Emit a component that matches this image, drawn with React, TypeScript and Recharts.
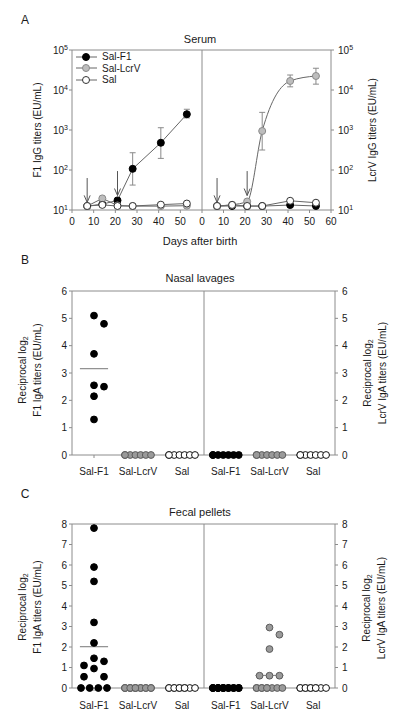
import React from 'react';
import {
  ComposedChart,
  ScatterChart,
  Line,
  Scatter,
  XAxis,
  YAxis,
  ErrorBar,
  ReferenceLine,
} from 'recharts';

// ---- Panel A: serum IgG titers (EU/mL) ----
const days = [7, 14, 21, 28, 41, 53];

const f1SalF1 = [12.5, 14, 17.4, 107, 480, 2480];
const f1SalF1Low = [12.5, 14, 17.4, 42, 195, 2000];
const f1SalF1High = [12.5, 14, 17.4, 270, 1140, 3300];
const f1SalLcrV = [12.5, 19.5, 13, 12.5, 12.5, 12.8];
const f1Sal = [12.6, 13.4, 12.6, 12.6, 13.6, 14.5];

const lcrvSalF1 = [12.5, 12.6, 12.5, 12.5, 13.3, 12.6];
const lcrvSalLcrV = [12.6, 13.5, 16.3, 944, 16800, 22400];
const lcrvSalLcrVLow = [12.6, 13.5, 16.3, 316, 12000, 14000];
const lcrvSalLcrVHigh = [12.6, 13.5, 16.3, 2760, 23700, 35000];
const lcrvSal = [12.6, 13.4, 12.6, 12.6, 17, 15.2];

// immunization arrows
const boostDays = [7, 21];
const arrowFrom = [63, 94];
const arrowTo = [15.5, 23];

const logTicks = [10, 100, 1000, 10000, 100000];
const dayTicksLeft = [0, 10, 20, 30, 40, 50];
const dayTicksRight = [0, 10, 20, 30, 40, 50, 60];

// ---- Panels B / C: reciprocal log2 IgA titers ----
const groups = ['Sal-F1', 'Sal-LcrV', 'Sal'];

const nasalF1SalF1 = [5.1, 4.8, 3.7, 2.55, 2.5, 2.15, 1.3];
const nasalF1SalLcrV = [0, 0, 0, 0, 0, 0, 0];
const nasalF1Sal = [0, 0, 0, 0, 0, 0, 0];
const nasalLcrVSalF1 = [0, 0, 0, 0, 0, 0, 0];
const nasalLcrVSalLcrV = [0, 0, 0, 0, 0, 0, 0];
const nasalLcrVSal = [0, 0, 0, 0, 0, 0, 0];

const fecalF1SalF1 = [7.8, 5.9, 5.2, 3.2, 2.2, 1.45, 1.3, 1.1, 0.95, 0.55, 0.55, 0, 0, 0, 0];
const fecalF1SalLcrV = [0, 0, 0, 0, 0, 0, 0, 0, 0, 0, 0, 0, 0, 0, 0];
const fecalF1Sal = [0, 0, 0, 0, 0, 0, 0, 0, 0, 0];
const fecalLcrVSalF1 = [0, 0, 0, 0, 0, 0, 0, 0, 0, 0, 0, 0, 0, 0, 0];
const fecalLcrVSalLcrV = [2.95, 2.6, 1.9, 0.6, 0.6, 0.6, 0, 0, 0, 0, 0, 0, 0, 0, 0];
const fecalLcrVSal = [0, 0, 0, 0, 0, 0, 0, 0, 0, 0];

const nasalTicks = [0, 1, 2, 3, 4, 5, 6];
const fecalTicks = [0, 1, 2, 3, 4, 5, 6, 7, 8];

const FONT = '"Liberation Sans", Arial, sans-serif';
const AXIS = '#8c8c8c';
const INK = '#1a1a1a';

const serumStyles = [
  { name: 'Sal-F1', fill: '#000', stroke: '#000' },
  { name: 'Sal-LcrV', fill: '#bdbdbd', stroke: '#8a8a8a' },
  { name: 'Sal', fill: '#fff', stroke: '#333' },
];
const dotStyles = [
  { fill: '#000', stroke: '#000' },
  { fill: '#9a9a9a', stroke: '#5c5c5c' },
  { fill: '#fff', stroke: '#111' },
];

const serumData = days.map((d, i) => ({
  day: d,
  f1SalF1: f1SalF1[i],
  f1Err: [f1SalF1[i] - f1SalF1Low[i], f1SalF1High[i] - f1SalF1[i]],
  f1SalLcrV: f1SalLcrV[i],
  f1Sal: f1Sal[i],
  lcrvSalF1: lcrvSalF1[i],
  lcrvSalLcrV: lcrvSalLcrV[i],
  lcrvErr: [lcrvSalLcrV[i] - lcrvSalLcrVLow[i], lcrvSalLcrVHigh[i] - lcrvSalLcrV[i]],
  lcrvSal: lcrvSal[i],
}));

// simple beeswarm: offsets in px so dots don't sit on top of each other
function swarm(vals: number[], pxPerUnit: number): number[] {
  const out = vals.map(() => 0);
  const placed: { x: number; y: number }[] = [];
  const done = new Set<number>();
  const order = vals.map((_, i) => i).sort((a, b) => vals[b] - vals[a]);
  for (const i of order) {
    const v = vals[i];
    const same = vals.map((w, j) => (w === v ? j : -1)).filter((j) => j >= 0);
    if (same.length > 2) {
      if (done.has(v)) continue;
      done.add(v);
      // identical values: a compact row of at most 6 positions
      const slots = Math.min(same.length, 6);
      const span = Math.min(26, (slots - 1) * 10);
      same.forEach((j, k) => {
        out[j] = -span / 2 + (span * (k % slots)) / (slots - 1);
        placed.push({ x: out[j], y: v * pxPerUnit });
      });
      continue;
    }
    const y = v * pxPerUnit;
    for (const s of [0, 10, -10, 20, -20]) {
      if (placed.every((p) => Math.abs(p.y - y) >= 9 || Math.abs(p.x - s) >= 7)) {
        out[i] = s;
        placed.push({ x: s, y });
        break;
      }
    }
  }
  return out;
}

const mean = (a: number[]) => a.reduce((s, v) => s + v, 0) / a.length;

const PowTick = (props: any) => {
  const { x, y, payload, textAnchor } = props;
  const exp = Math.round(Math.log10(payload.value));
  return (
    <text x={x} y={y} dy={4} textAnchor={textAnchor} fontSize={10} fill={INK} fontFamily={FONT}>
      10
      <tspan dy={-4} fontSize={7}>
        {exp}
      </tspan>
    </text>
  );
};

const Arrow = (props: any) => {
  const { x1, y1, x2, y2 } = props;
  if ([x1, y1, x2, y2].some((v) => v == null || isNaN(v))) return null;
  const top = Math.min(y1, y2);
  const tip = Math.max(y1, y2);
  return (
    <g stroke="#555" strokeWidth={1} fill="none">
      <line x1={x1} y1={top} x2={x1} y2={tip} />
      <polyline points={`${x1 - 3},${tip - 7} ${x1},${tip} ${x1 + 3},${tip - 7}`} />
    </g>
  );
};

const Txt = ({ x, y, size = 10, rotate = false, children }: any) => (
  <div
    style={{
      position: 'absolute',
      left: x,
      top: y,
      transform: `translate(-50%, -50%)${rotate ? ' rotate(-90deg)' : ''}`,
      fontSize: size,
      fontFamily: FONT,
      color: INK,
      whiteSpace: 'nowrap',
      textAlign: 'center',
      lineHeight: '12px',
    }}
  >
    {children}
  </div>
);

const tickStyle = { fontSize: 10, fill: INK, fontFamily: FONT };

function serumSeries(keys: string[], errKey: string, errIndex: number, smoothIndex: number) {
  return keys.map((k, i) => (
    <Line
      key={k}
      dataKey={k}
      type={i === smoothIndex ? 'monotone' : 'linear'}
      stroke="#666"
      strokeWidth={1}
      isAnimationActive={false}
      activeDot={false}
      dot={{ r: 3.5, fill: serumStyles[i].fill, stroke: serumStyles[i].stroke, strokeWidth: 1 }}
    >
      {i === errIndex && (
        <ErrorBar dataKey={errKey} direction="y" width={3} stroke="#8a8a8a" strokeWidth={1} />
      )}
    </Line>
  ));
}

function arrows() {
  return boostDays.map((d, i) => (
    <ReferenceLine
      key={d}
      segment={[
        { x: d, y: arrowFrom[i] },
        { x: d, y: arrowTo[i] },
      ]}
      ifOverflow="visible"
      shape={Arrow}
    />
  ));
}

function PanelA() {
  return (
    <div style={{ position: 'absolute', left: 0, top: 0, width: 400, height: 240 }}>
      <div style={{ position: 'absolute', left: 0, top: 0 }}>
        <ComposedChart width={400} height={240} data={serumData} margin={{ top: 50, right: 198, left: 0, bottom: 0 }}>
          <XAxis
            dataKey="day"
            type="number"
            domain={[0, 60]}
            ticks={dayTicksLeft}
            interval={0}
            height={30}
            tickSize={3}
            tickMargin={5}
            tick={tickStyle}
            stroke={AXIS}
          />
          <YAxis
            type="number"
            scale="log"
            domain={[10, 100000]}
            allowDataOverflow
            ticks={logTicks}
            interval={0}
            width={72}
            tickSize={3}
            tickMargin={1}
            tick={<PowTick />}
            stroke={AXIS}
          />
          <ReferenceLine y={100000} stroke={AXIS} ifOverflow="visible" />
          <ReferenceLine x={60} stroke={AXIS} ifOverflow="visible" />
          {arrows()}
          {serumSeries(['f1SalF1', 'f1SalLcrV', 'f1Sal'], 'f1Err', 0, -1)}
        </ComposedChart>
      </div>
      <div style={{ position: 'absolute', left: 0, top: 0 }}>
        <ComposedChart width={400} height={240} data={serumData} margin={{ top: 50, right: 0, left: 202, bottom: 0 }}>
          <XAxis
            dataKey="day"
            type="number"
            domain={[0, 60]}
            ticks={dayTicksRight}
            interval={0}
            height={30}
            tickSize={3}
            tickMargin={5}
            tick={tickStyle}
            stroke={AXIS}
          />
          <YAxis
            orientation="right"
            type="number"
            scale="log"
            domain={[10, 100000]}
            allowDataOverflow
            ticks={logTicks}
            interval={0}
            width={69}
            tickSize={3}
            tickMargin={4}
            tick={<PowTick />}
            stroke={AXIS}
          />
          <ReferenceLine y={100000} stroke={AXIS} ifOverflow="visible" />
          {arrows()}
          {serumSeries(['lcrvSalF1', 'lcrvSalLcrV', 'lcrvSal'], 'lcrvErr', 1, 1)}
        </ComposedChart>
      </div>
      {/* legend */}
      <div style={{ position: 'absolute', left: 76, top: 51, fontFamily: FONT, fontSize: 10, color: INK }}>
        {serumStyles.map((s) => (
          <div key={s.name} style={{ display: 'flex', alignItems: 'center', height: 11.5 }}>
            <svg width={22} height={10}>
              <line x1={0} y1={5} x2={21} y2={5} stroke="#666" />
              <circle cx={10} cy={5} r={3.5} fill={s.fill} stroke={s.stroke} />
            </svg>
            <span style={{ marginLeft: 4 }}>{s.name}</span>
          </div>
        ))}
      </div>
    </div>
  );
}

function groupScatter(sets: number[][], pxPerUnit: number) {
  const items: React.ReactNode[] = [];
  sets.forEach((vals, gi) => {
    const m = mean(vals);
    if (m > 0) {
      items.push(
        <ReferenceLine
          key={'m' + gi}
          segment={[
            { x: gi + 0.5 - 0.32, y: m },
            { x: gi + 0.5 + 0.32, y: m },
          ]}
          stroke="#777"
          strokeWidth={1}
          ifOverflow="visible"
        />
      );
    }
  });
  sets.forEach((vals, gi) => {
    const offs = swarm(vals, pxPerUnit);
    const pts = vals.map((v, i) => ({ x: gi + 0.5 + offs[i] / 44, y: v }));
    const st = dotStyles[gi];
    items.push(
      <Scatter
        key={'s' + gi}
        data={pts}
        isAnimationActive={false}
        shape={(p: any) => <circle cx={p.cx} cy={p.cy} r={3.4} fill={st.fill} stroke={st.stroke} strokeWidth={1} />}
      />
    );
  });
  return items;
}

function DotPanel({
  top,
  height,
  marginTop,
  xHeight,
  tickMargin,
  yMax,
  ticks,
  left,
  right,
}: {
  top: number;
  height: number;
  marginTop: number;
  xHeight: number;
  tickMargin: number;
  yMax: number;
  ticks: number[];
  left: number[][];
  right: number[][];
}) {
  const pxPerUnit = (height - marginTop - xHeight) / yMax;
  const xAxis = (
    <XAxis
      dataKey="x"
      type="number"
      domain={[0, 3]}
      ticks={[0.5, 1.5, 2.5]}
      interval={0}
      tickFormatter={(v: number) => groups[Math.floor(v)]}
      height={xHeight}
      tickSize={3}
      tickMargin={tickMargin}
      tick={tickStyle}
      stroke={AXIS}
    />
  );
  return (
    <div style={{ position: 'absolute', left: 0, top, width: 400, height }}>
      <div style={{ position: 'absolute', left: 0, top: 0 }}>
        <ScatterChart width={400} height={height} margin={{ top: marginTop, right: 196, left: 0, bottom: 0 }}>
          {xAxis}
          <YAxis
            dataKey="y"
            type="number"
            domain={[0, yMax]}
            ticks={ticks}
            interval={0}
            width={72}
            tickSize={3}
            tickMargin={2}
            tick={tickStyle}
            stroke={AXIS}
          />
          <ReferenceLine y={yMax} stroke={AXIS} ifOverflow="visible" />
          <ReferenceLine x={3} stroke={AXIS} ifOverflow="visible" />
          {groupScatter(left, pxPerUnit)}
        </ScatterChart>
      </div>
      <div style={{ position: 'absolute', left: 0, top: 0 }}>
        <ScatterChart width={400} height={height} margin={{ top: marginTop, right: 0, left: 204, bottom: 0 }}>
          {xAxis}
          <YAxis
            dataKey="y"
            orientation="right"
            type="number"
            domain={[0, yMax]}
            ticks={ticks}
            interval={0}
            width={65}
            tickSize={3}
            tickMargin={4}
            tick={tickStyle}
            stroke={AXIS}
          />
          <ReferenceLine y={yMax} stroke={AXIS} ifOverflow="visible" />
          {groupScatter(right, pxPerUnit)}
        </ScatterChart>
      </div>
    </div>
  );
}

const log2 = (
  <>
    Reciprocal log<sub style={{ fontSize: 7, verticalAlign: '-2px' }}>2</sub>
  </>
);

export default function App() {
  return (
    <div
      style={{
        position: 'absolute',
        left: 0,
        top: 0,
        width: 400,
        height: 724,
        background: '#fff',
        fontFamily: FONT,
        overflow: 'hidden',
      }}
    >
      <PanelA />
      <DotPanel
        top={260}
        height={220}
        marginTop={31}
        xHeight={25}
        tickMargin={10}
        yMax={6}
        ticks={nasalTicks}
        left={[nasalF1SalF1, nasalF1SalLcrV, nasalF1Sal]}
        right={[nasalLcrVSalF1, nasalLcrVSalLcrV, nasalLcrVSal]}
      />
      <DotPanel
        top={500}
        height={214}
        marginTop={24}
        xHeight={26}
        tickMargin={11}
        yMax={8}
        ticks={fecalTicks}
        left={[fecalF1SalF1, fecalF1SalLcrV, fecalF1Sal]}
        right={[fecalLcrVSalF1, fecalLcrVSalLcrV, fecalLcrVSal]}
      />

      <Txt x={25} y={20} size={12}>A</Txt>
      <Txt x={200} y={39} size={11}>Serum</Txt>
      <Txt x={200} y={241} size={11}>Days after birth</Txt>
      <Txt x={38} y={130} rotate>F1 IgG titers (EU/mL)</Txt>
      <Txt x={373} y={130} rotate>LcrV IgG titers (EU/mL)</Txt>

      <Txt x={25} y={260} size={12}>B</Txt>
      <Txt x={200} y={278} size={11}>Nasal lavages</Txt>
      <Txt x={30} y={370} rotate>
        {log2}
        <br />
        F1 IgA titers (EU/mL)
      </Txt>
      <Txt x={375} y={373} rotate>
        {log2}
        <br />
        LcrV IgA titers (EU/mL)
      </Txt>

      <Txt x={25} y={494} size={12}>C</Txt>
      <Txt x={200} y={512} size={11}>Fecal pellets</Txt>
      <Txt x={30} y={607} rotate>
        {log2}
        <br />
        F1 IgA titers (EU/mL)
      </Txt>
      <Txt x={374} y={608} rotate>
        {log2}
        <br />
        LcrV IgA titers (EU/mL)
      </Txt>
    </div>
  );
}
